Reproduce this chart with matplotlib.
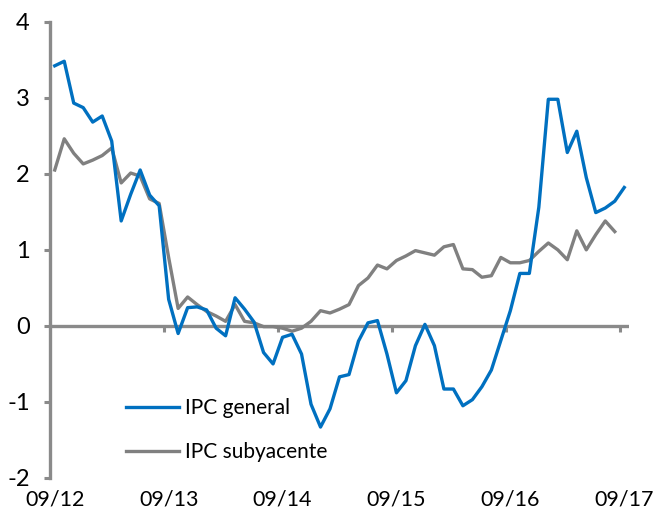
import matplotlib
matplotlib.use("Agg")
import matplotlib.pyplot as plt

plt.rcParams['font.family'] = ['Lato', 'DejaVu Sans']
plt.rcParams['axes.unicode_minus'] = False

tick_labels = ["09/12", "09/13", "09/14", "09/15", "09/16", "09/17"]

ipc_general = [3.42, 3.48, 2.93, 2.87, 2.68, 2.76, 2.43, 1.38, 1.73, 2.05,
               1.72, 1.58, 0.35, -0.10, 0.24, 0.25, 0.21, -0.03, -0.13, 0.37,
               0.22, 0.05, -0.35, -0.50, -0.15, -0.11, -0.37, -1.03, -1.33, -1.09,
               -0.67, -0.64, -0.20, 0.04, 0.07, -0.37, -0.88, -0.72, -0.26, 0.02,
               -0.26, -0.83, -0.83, -1.05, -0.97, -0.80, -0.58, -0.19, 0.20, 0.69,
               0.69, 1.56, 2.98, 2.98, 2.28, 2.56, 1.95, 1.49, 1.55, 1.64,
               1.82]

ipc_subyacente = [2.05, 2.46, 2.27, 2.13, 2.18, 2.24, 2.34, 1.88, 2.01, 1.97,
                  1.67, 1.61, 0.90, 0.23, 0.38, 0.28, 0.19, 0.13, 0.06, 0.28,
                  0.06, 0.04, -0.01, -0.01, -0.03, -0.07, -0.03, 0.06, 0.20, 0.17,
                  0.22, 0.28, 0.53, 0.63, 0.80, 0.75, 0.86, 0.92, 0.99, 0.96,
                  0.93, 1.04, 1.07, 0.75, 0.74, 0.64, 0.66, 0.90, 0.83, 0.83,
                  0.86, 0.98, 1.09, 1.00, 0.87, 1.25, 1.00, 1.20, 1.38, 1.24]

BLUE = "#0070C0"
GRAY = "#808080"
AXIS = "#8A8A8A"

fig = plt.figure(figsize=(6.53, 5.19), dpi=100)
ax = fig.add_axes([50/653, 41/519, 579/653, 456.3/519])

n = len(ipc_general)
ax.plot(range(len(ipc_general)), ipc_general, color=BLUE, lw=2.4,
        solid_joinstyle='round', label="IPC general", zorder=4)
ax.plot(range(len(ipc_subyacente)), ipc_subyacente, color=GRAY, lw=2.4,
        solid_joinstyle='round', label="IPC subyacente", zorder=3)

ax.set_xlim(-0.5, n - 0.5)
ax.set_ylim(-2, 4)

# zero axis line with category-boundary tick marks
ax.plot([-0.5, n - 0.5], [0, 0], color=AXIS, lw=2.4, zorder=2, solid_capstyle='butt')
for k in range(1, len(tick_labels)):
    b = 12 * k - 0.5
    ax.plot([b, b], [0, -0.085], color=AXIS, lw=2.2, zorder=2, solid_capstyle='butt')

for s in ["top", "right", "bottom"]:
    ax.spines[s].set_visible(False)
ax.spines["left"].set_color(AXIS)
ax.spines["left"].set_linewidth(2.4)

ax.set_yticks(range(-2, 5))
ax.tick_params(axis='y', direction='out', length=4.5, width=2.2, color=AXIS,
               pad=10, labelsize=17, labelcolor="black")
ax.set_xticks([12 * k for k in range(len(tick_labels))])
ax.set_xticklabels(tick_labels)
ax.tick_params(axis='x', length=0, pad=8, labelsize=15.5, labelcolor="black")

leg = ax.legend(loc='center left', bbox_to_anchor=(0.132, 0.105), frameon=False,
                fontsize=15, handlelength=2.5, handletextpad=0.3,
                labelspacing=1.15, borderpad=0, borderaxespad=0)

fig.savefig("out.png", dpi=100)
